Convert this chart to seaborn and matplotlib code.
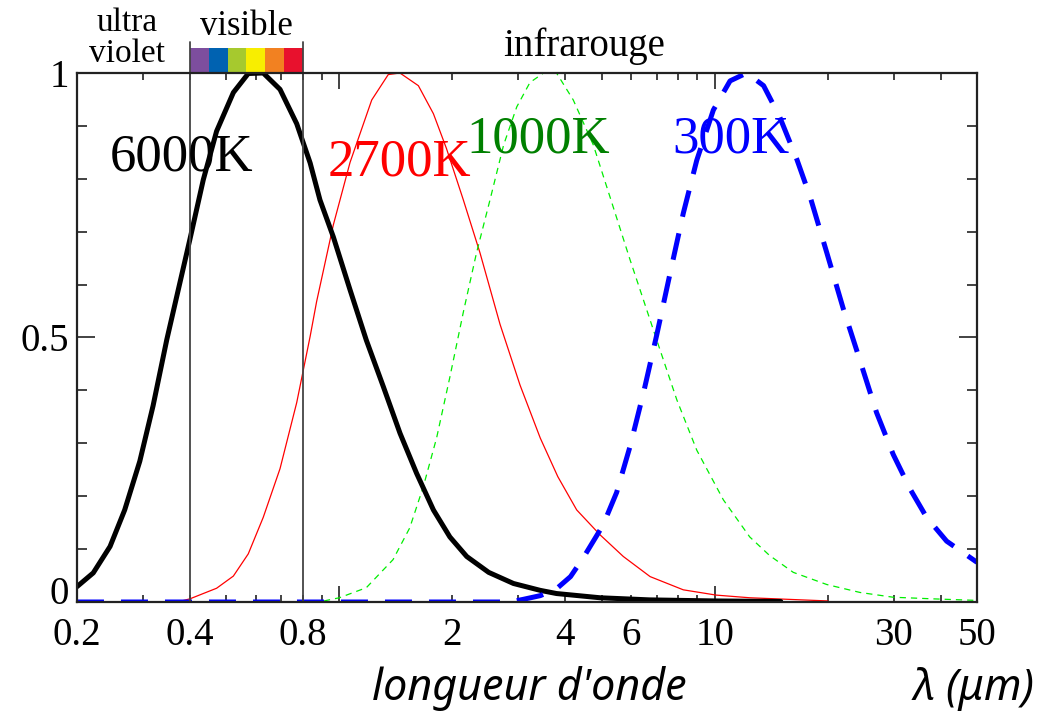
import numpy as np
import pandas as pd
import seaborn as sns
import matplotlib.pyplot as plt
from matplotlib.ticker import FixedLocator, FixedFormatter, NullFormatter

# values (normalised spectral radiance)
lam_6000 = [0.2, 0.221, 0.245, 0.268, 0.294, 0.319, 0.347, 0.4, 0.434, 0.471, 0.522, 0.572,
            0.627, 0.695, 0.77, 0.836, 0.888, 0.964, 1.068, 1.18, 1.31, 1.451, 1.607, 1.781,
            1.97, 2.185, 2.5, 2.91, 3.43, 3.79, 4.95, 6.7, 10.0, 15.0]
val_6000 = [0.029, 0.055, 0.105, 0.174, 0.266, 0.371, 0.496, 0.686, 0.798, 0.89, 0.963, 0.999,
            1.0, 0.969, 0.904, 0.83, 0.76, 0.69, 0.59, 0.495, 0.407, 0.319, 0.243, 0.174,
            0.123, 0.086, 0.056, 0.035, 0.022, 0.016, 0.008, 0.004, 0.002, 0.001]

lam_2700 = [0.38, 0.4, 0.434, 0.471, 0.522, 0.572, 0.627, 0.695, 0.77, 0.836, 0.87, 0.964,
            1.068, 1.22, 1.35, 1.45, 1.624, 1.781, 1.93, 2.14, 2.37, 2.68, 3.03, 3.43,
            3.82, 4.29, 4.95, 5.71, 6.73, 8.25, 10.1, 12.4, 20.0]
val_2700 = [0.002, 0.006, 0.016, 0.026, 0.049, 0.091, 0.16, 0.252, 0.377, 0.502, 0.568, 0.713,
            0.831, 0.949, 0.997, 1.0, 0.976, 0.923, 0.857, 0.76, 0.66, 0.525, 0.41, 0.31,
            0.237, 0.174, 0.127, 0.086, 0.048, 0.023, 0.013, 0.008, 0.002]

lam_1000 = [0.91, 1.0, 1.18, 1.39, 1.54, 1.674, 1.816, 1.97, 2.14, 2.32, 2.52, 2.74, 2.97,
            3.22, 3.5, 3.79, 4.2, 4.75, 5.26, 5.95, 6.46, 7.01, 7.93, 8.96, 10.55, 12.4,
            14.0, 16.2, 19.9, 24.4, 29.9, 38.0, 50.0]
val_1000 = [0.002, 0.008, 0.027, 0.08, 0.14, 0.218, 0.31, 0.425, 0.548, 0.66, 0.76, 0.864,
            0.936, 0.982, 1.0, 1.0, 0.949, 0.864, 0.766, 0.647, 0.571, 0.495, 0.382, 0.287,
            0.193, 0.123, 0.088, 0.056, 0.033, 0.018, 0.009, 0.006, 0.003]

lam_300 = [0.2, 2.85, 3.09, 3.43, 3.79, 4.13, 4.47, 5.04, 5.48, 5.95, 6.46, 7.01, 7.6, 8.25,
           8.96, 9.92, 10.99, 12.17, 13.5, 14.9, 16.55, 17.96, 19.9, 22.0, 24.4, 27.0, 29.9,
           33.2, 36.7, 41.5, 48.4, 50.0]
val_300 = [0.0, 0.0, 0.005, 0.012, 0.025, 0.048, 0.084, 0.145, 0.207, 0.294, 0.395, 0.505,
           0.62, 0.735, 0.835, 0.93, 0.985, 1.0, 0.976, 0.917, 0.837, 0.766, 0.66, 0.555,
           0.456, 0.358, 0.279, 0.213, 0.16, 0.115, 0.082, 0.075]

temps = ["6000K", "2700K", "1000K", "300K"]
xtick_vals = [0.2, 0.4, 0.8, 2, 4, 6, 10, 30, 50]
xtick_text = ["0.2", "0.4", "0.8", "2", "4", "6", "10", "30", "50"]
spectrum_colors = ["#7d4e9e", "#0062b1", "#a6c92e", "#f8ee00", "#f28121", "#e8112d"]

sns.set_style("ticks")
plt.rcParams["font.family"] = ["Liberation Serif", "DejaVu Serif"]
plt.rcParams["text.color"] = "black"
plt.rcParams["xtick.color"] = "black"
plt.rcParams["ytick.color"] = "black"

fig = plt.figure(figsize=(10.56, 7.12), dpi=100)
ax = fig.add_axes([0.0729, 0.1545, 0.8523, 0.743])

sns.lineplot(x=lam_2700, y=val_2700, ax=ax, color="#ff0000", linewidth=0.9, estimator=None)
sns.lineplot(x=lam_1000, y=val_1000, ax=ax, color="#00ee00", linewidth=0.9,
             linestyle=(0, (5, 4)), estimator=None)
sns.lineplot(x=lam_6000, y=val_6000, ax=ax, color="black", linewidth=3.6, estimator=None)
sns.lineplot(x=lam_300, y=val_300, ax=ax, color="#0000ff", linewidth=3.6,
             linestyle=(0, (5.4, 3.4)), estimator=None)

ax.set_xscale("log")
ax.set_xlim(0.2, 50)
ax.set_ylim(0, 1)

# x ticks: decades long, others short, labels where the reference has them
all_minor = [v * d for d in (0.1, 1, 10) for v in range(2, 10) if 0.2 <= v * d <= 50]
ax.xaxis.set_major_locator(FixedLocator([1, 10]))
ax.xaxis.set_major_formatter(FixedFormatter(["", "10"]))
ax.xaxis.set_minor_locator(FixedLocator(all_minor))
minor_lab = []
for v in all_minor:
    lab = ""
    for tv, tt in zip(xtick_vals, xtick_text):
        if abs(tv - v) < 1e-6:
            lab = tt
    minor_lab.append(lab)
ax.xaxis.set_minor_formatter(FixedFormatter(minor_lab))

# "0" is written by hand a bit higher so it does not collide with "0.2"
ax.set_yticks([0, 0.5, 1])
ax.set_yticklabels(["", "0.5", "1"])
ax.set_yticks(np.arange(0.1, 1.0, 0.1), minor=True)
ax.yaxis.set_minor_formatter(NullFormatter())
ax.text(-0.0095, 0.015, "0", transform=ax.get_yaxis_transform(), ha="right",
        va="center", fontsize=28)

ax.tick_params(axis="both", which="both", direction="in", top=True, right=True,
               width=1.2, color="#222222", labelcolor="black", labelsize=28)
ax.tick_params(axis="x", which="both", pad=11)
ax.tick_params(axis="x", which="major", length=11.5)
ax.tick_params(axis="x", which="minor", length=5)
ax.tick_params(axis="y", which="major", length=13, pad=6)
ax.tick_params(axis="y", which="minor", length=7)
for s in ax.spines.values():
    s.set_linewidth(1.6)
    s.set_color("#222222")

# visible band
edges = np.geomspace(0.4, 0.8, len(spectrum_colors) + 1)
for i, c in enumerate(spectrum_colors):
    ax.axvspan(edges[i], edges[i + 1], ymin=1.0, ymax=1.047, color=c, lw=0, clip_on=False)
for xv in (0.4, 0.8):
    ax.axvline(xv, ymin=0, ymax=1.059, color="#444444", lw=1.3, clip_on=False)

lab_x = [0.245, 0.933, 2.176, 7.7]
lab_y = [0.84, 0.83, 0.874, 0.874]
lab_c = ["black", "#ff0000", "#008000", "#0000ff"]
for t, xx, yy, cc in zip(temps, lab_x, lab_y, lab_c):
    ax.text(xx, yy, t, color=cc, fontsize=38, ha="left", va="center")

top = ax.get_xaxis_transform()
ax.text(0.272, 1.079, "ultra", transform=top, ha="center", va="baseline", fontsize=24)
ax.text(0.272, 1.021, "violet", transform=top, ha="center", va="baseline", fontsize=24)
ax.text(0.566, 1.0718, "visible", transform=top, ha="center", va="baseline", fontsize=25)
ax.text(4.48, 1.032, "infrarouge", transform=top, ha="center", va="baseline", fontsize=28)

fig.text(0.501, 0.0169, "longueur d'onde", family=["Noto Sans", "DejaVu Sans"],
         style="italic", fontsize=31, ha="center", va="baseline")
fig.text(0.980, 0.0169, "λ (μm)", family=["Noto Sans", "DejaVu Sans"],
         style="italic", fontsize=31, ha="right", va="baseline")

fig.savefig("out.png", dpi=100)
